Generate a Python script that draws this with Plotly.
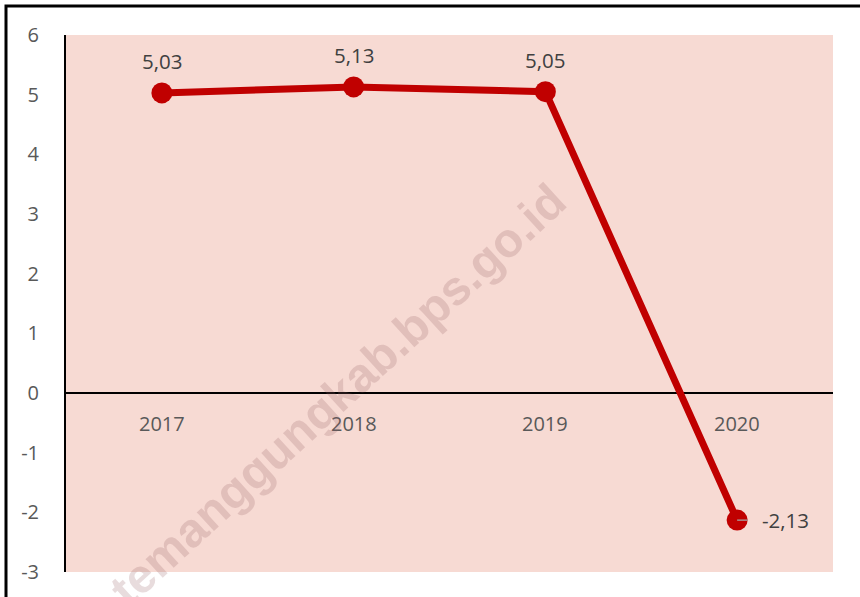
import plotly.graph_objects as go

years = ["2017", "2018", "2019", "2020"]
growth = [5.03, 5.13, 5.05, -2.13]
labels = ["5,03", "5,13", "5,05", "-2,13"]
y_ticks = [-3, -2, -1, 0, 1, 2, 3, 4, 5, 6]
watermark = "temanggungkab.bps.go.id"

W, H = 860, 597
ml, mr, mt, mb = 66, 27, 35, 25

fig = go.Figure()
fig.add_trace(go.Scatter(
    x=list(range(len(years))), y=growth, mode="lines+markers",
    line=dict(color="#C00000", width=7),
    marker=dict(color="#C00000", size=21),
    hoverinfo="skip", showlegend=False,
))

txt_font = dict(family="Open Sans", size=20.5, color="#404040")
for i, (yr, v, lb) in enumerate(zip(years, growth, labels)):
    if v >= 0:
        fig.add_annotation(x=i, y=v, text=lb, showarrow=False, yshift=32, font=txt_font)
    else:
        fig.add_annotation(x=i, y=v, text=lb, showarrow=False, xshift=48, font=txt_font)
        fig.add_annotation(x=i, y=v, ax=12, ay=0, axref="pixel", ayref="pixel",
                           text="", showarrow=True, arrowhead=0, arrowwidth=1.2,
                           arrowcolor="#A6A6A6", standoff=0, startstandoff=0)
    # category labels below the zero line
    fig.add_annotation(x=i, y=0, text=yr, showarrow=False, yshift=-30,
                       font=dict(family="Open Sans", size=20, color="#595959"))

# watermark
fig.add_annotation(xref="paper", yref="paper",
                   x=(337 - ml) / (W - ml - mr), y=(H - mb - 395) / (H - mt - mb),
                   xanchor="center", yanchor="middle",
                   text=watermark, showarrow=False, textangle=-42.5,
                   font=dict(family="Liberation Sans", size=48, weight="bold",
                             color="rgba(150,95,100,0.22)"))

# outer frame
fig.add_shape(type="rect", xref="paper", yref="paper",
              x0=(6 - ml) / (W - ml - mr), x1=1.2,
              y0=-0.2, y1=(H - mb - 6) / (H - mt - mb),
              line=dict(color="black", width=3), fillcolor="rgba(0,0,0,0)", layer="above")

fig.update_layout(
    width=W, height=H,
    margin=dict(l=ml, r=mr, t=mt, b=mb),
    paper_bgcolor="white",
    plot_bgcolor="#F7DAD3",
    showlegend=False,
    xaxis=dict(showticklabels=False, showgrid=False, zeroline=False,
               showline=False, ticks="", range=[-0.5, len(years) - 0.5]),
    yaxis=dict(range=[-3, 6], tickvals=y_ticks, ticktext=[str(t) for t in y_ticks],
               showgrid=False, zeroline=True, zerolinecolor="black", zerolinewidth=2,
               showline=True, linecolor="black", linewidth=2, ticks="",
               ticklabelstandoff=21,
               tickfont=dict(family="Open Sans", size=20, color="#595959")),
)

fig.write_html("out.html", config={"displayModeBar": False},
               post_script="document.body.style.margin='0px';document.body.style.padding='0px';")
